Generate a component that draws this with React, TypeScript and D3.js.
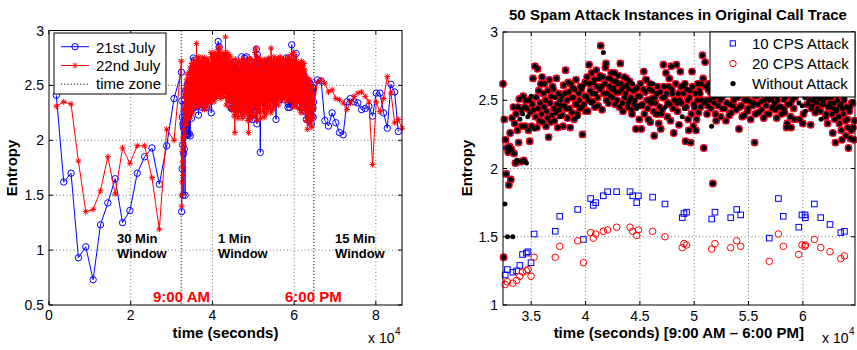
import React from "react";
import * as d3 from "d3";

// ---------- data ----------
// 30 minute windows, 0:30 .. 8:30 (every 1800 s)
const day21Morning = [2.41, 1.62, 1.7, 0.93, 1.03, 0.73, 1.23, 1.43, 1.65, 1.25, 1.36, 1.7, 1.85, 1.93, 1.6, 1.95, 2.38];
const day22Morning = [2.31, 2.35, 2.33, 1.81, 1.35, 1.37, 1.54, 1.85, 1.51, 1.93, 1.79, 1.95, 1.95, 1.66, 1.19, 2.1, 2.0];

// 1 minute windows 9:00 AM - 6:00 PM, 21st July (this is also the original call trace on the right)
// one row = 30 minutes
const day21Trace = [
  2.62, 1.35, 2.36, 1.74, 2.21, 1.96, 2.15, 1.5, 2.12, 1.88, 2.16, 2.26, 1.92, 2.14, 2.37, 1.5, 2.45, 2.11, 2.33, 2.04, 2.4, 2.06, 2.28, 2.45, 2.19, 2.51, 2.36, 2.05, 2.43, 2.31,
  2.4, 2.53, 2.06, 2.45, 2.31, 2.5, 2.04, 2.44, 2.38, 2.28, 2.5, 2.2, 2.41, 2.53, 2.31, 2.47, 2.66, 2.43, 2.29, 2.75, 2.38, 2.52, 2.3, 2.73, 2.44, 2.57, 2.35, 2.48, 2.62, 2.4,
  2.67, 2.34, 2.55, 2.45, 2.62, 2.5, 2.31, 2.42, 2.37, 2.57, 2.23, 2.65, 2.48, 2.34, 2.53, 2.39, 2.6, 2.58, 2.44, 2.35, 2.52, 2.41, 2.66, 2.47, 2.3, 2.55, 2.43, 2.38, 2.5, 2.46,
  2.53, 2.39, 2.31, 2.61, 2.46, 2.55, 2.72, 2.44, 2.5, 2.37, 2.63, 2.56, 2.44, 2.3, 2.62, 2.52, 2.41, 2.59, 2.52, 2.36, 2.58, 2.47, 2.65, 2.47, 2.4, 2.38, 2.55, 2.5, 2.44, 2.6,
  2.58, 2.45, 2.25, 2.6, 2.47, 2.53, 2.63, 2.42, 2.53, 2.67, 2.42, 2.5, 2.76, 2.62, 2.57, 2.48, 2.7, 2.55, 2.49, 2.63, 2.65, 2.45, 2.55, 2.72, 2.6, 2.52, 2.46, 2.66, 2.68, 2.58,
  2.9, 2.6, 2.43, 2.67, 2.85, 2.55, 2.62, 2.74, 2.77, 2.5, 2.55, 2.66, 2.48, 2.6, 2.66, 2.53, 2.7, 2.58, 2.52, 2.64, 2.59, 2.7, 2.47, 2.56, 2.64, 2.5, 2.62, 2.68, 2.56, 2.45,
  2.77, 2.62, 2.58, 2.48, 2.42, 2.6, 2.67, 2.52, 2.55, 2.66, 2.61, 2.45, 2.48, 2.58, 2.64, 2.5, 2.52, 2.43, 2.4, 2.62, 2.57, 2.47, 2.5, 2.58, 2.29, 2.44, 2.59, 2.53, 2.46, 2.36,
  2.53, 2.62, 2.29, 2.46, 2.47, 2.58, 2.71, 2.4, 2.56, 2.65, 2.65, 2.5, 2.44, 2.36, 2.58, 2.62, 2.34, 2.48, 2.51, 2.57, 2.62, 2.42, 2.24, 2.52, 2.48, 2.4, 2.55, 2.6, 2.4, 2.33,
  2.45, 2.56, 2.29, 2.4, 2.43, 2.52, 2.76, 2.6, 2.52, 2.45, 2.7, 2.55, 2.38, 2.48, 2.6, 2.66, 2.47, 2.35, 2.75, 2.58, 2.55, 2.44, 2.26, 2.5, 2.5, 2.62, 2.76, 2.48, 2.42, 2.55,
  2.32, 2.5, 2.71, 2.6, 2.48, 2.38, 2.6, 2.55, 2.44, 2.62, 2.2, 2.45, 2.58, 2.5, 2.36, 2.28, 2.52, 2.57, 2.19, 2.4, 2.71, 2.6, 2.31, 2.47, 2.45, 2.55, 2.28, 2.36, 2.5, 2.62,
  2.41, 2.57, 2.55, 2.45, 2.62, 2.5, 2.83, 2.66, 2.15, 2.48, 2.78, 2.6, 2.5, 2.4, 2.46, 2.58, 2.62, 2.5, 2.56, 2.44, 2.31, 2.62, 1.89, 2.52, 2.48, 2.7, 2.4, 2.35, 2.53, 2.6,
  2.46, 2.62, 2.58, 2.5, 2.38, 2.7, 2.52, 2.44, 2.62, 2.57, 2.44, 2.66, 2.35, 2.48, 2.55, 2.6, 2.66, 2.39, 2.47, 2.54, 2.41, 2.72, 2.59, 2.46, 2.5, 2.63, 2.7, 2.52, 2.43, 2.58,
  2.52, 2.6, 2.29, 2.45, 2.61, 2.55, 2.46, 2.38, 2.55, 2.64, 2.39, 2.5, 2.68, 2.57, 2.5, 2.42, 2.44, 2.6, 2.57, 2.49, 2.36, 2.55, 2.64, 2.46, 2.48, 2.58, 2.19, 2.4, 2.53, 2.62,
  2.58, 2.47, 2.41, 2.55, 2.72, 2.6, 2.49, 2.43, 2.55, 2.65, 2.37, 2.5, 2.63, 2.56, 2.46, 2.4, 2.52, 2.62, 2.4, 2.5, 2.67, 2.55, 2.51, 2.44, 2.45, 2.58, 2.6, 2.48, 2.43, 2.53,
  2.37, 2.5, 2.54, 2.45, 2.62, 2.55, 2.45, 2.4, 2.75, 2.58, 2.5, 2.44, 2.41, 2.52, 2.58, 2.3, 2.33, 2.47, 2.66, 2.56, 2.47, 2.38, 2.3, 2.5, 2.56, 2.62, 2.44, 2.36, 2.52, 2.6,
  2.87, 2.55, 2.61, 2.7, 2.48, 2.36, 2.7, 2.58, 2.55, 2.46, 2.33, 2.4, 2.64, 2.52, 2.42, 2.6, 2.58, 2.47, 2.79, 2.62, 2.5, 2.55, 2.32, 2.44, 2.46, 2.58, 2.62, 2.5, 2.53, 2.41,
  2.57, 2.48, 2.44, 2.52, 2.68, 2.6, 2.51, 2.42, 2.36, 2.47, 2.62, 2.5, 2.47, 2.58, 2.55, 2.38, 2.4, 2.52, 2.33, 2.45, 2.59, 2.48, 2.45, 2.55, 2.52, 2.4, 2.26, 2.44, 2.48, 2.36,
  2.19, 2.42, 2.43, 2.5, 2.55, 2.38, 2.33, 2.46, 2.47, 2.28, 2.21, 2.44, 2.4, 2.5, 2.52, 2.35, 2.24, 2.45, 2.36, 2.3, 2.15, 2.42, 2.45, 2.22, 2.28, 2.48, 2.48, 2.3, 2.21, 2.35,
];

// 1 minute windows 9:00 AM - 6:00 PM, 22nd July, one row = 30 minutes
const day22Trace = [
  2.72, 1.4, 1.5, 1.62, 1.9, 1.8, 2.02, 1.68, 1.75, 2.1, 2.28, 1.95, 2.15, 2.4, 2.05, 2.46, 2.2, 2.33, 2.5, 2.25, 2.38, 2.55, 2.15, 2.42, 2.6, 2.3, 2.48, 2.2, 2.55, 2.35,
  2.55, 2.24, 2.62, 2.38, 2.5, 2.2, 2.66, 2.42, 2.57, 2.31, 2.6, 2.28, 2.7, 2.45, 2.35, 2.62, 2.25, 2.55, 2.48, 2.68, 2.32, 2.58, 2.4, 2.72, 2.36, 2.5, 2.64, 2.3, 2.56, 2.44,
  2.7, 2.36, 2.88, 2.45, 2.62, 2.3, 2.74, 2.52, 2.4, 2.68, 2.35, 2.58, 2.76, 2.42, 2.6, 2.32, 2.7, 2.5, 2.38, 2.65, 2.46, 2.72, 2.34, 2.56, 2.62, 2.4, 2.75, 2.48, 2.3, 2.6,
  2.35, 2.71, 2.48, 2.6, 2.28, 2.75, 2.44, 2.58, 2.33, 2.66, 2.5, 2.38, 2.72, 2.45, 2.62, 2.3, 2.68, 2.52, 2.4, 2.74, 2.46, 2.56, 2.34, 2.7, 2.5, 2.42, 2.66, 2.36, 2.6, 2.48,
  2.52, 2.8, 2.38, 2.69, 2.47, 2.76, 2.36, 2.62, 2.55, 2.78, 2.42, 2.7, 2.5, 2.35, 2.74, 2.58, 2.44, 2.8, 2.48, 2.65, 2.38, 2.72, 2.55, 2.45, 2.78, 2.4, 2.62, 2.52, 2.7, 2.46,
  2.44, 2.83, 2.56, 2.72, 2.4, 2.65, 2.5, 2.85, 2.46, 2.7, 2.58, 2.38, 2.76, 2.52, 2.64, 2.42, 2.8, 2.5, 2.6, 2.45, 2.74, 2.55, 2.4, 2.7, 2.62, 2.48, 2.78, 2.44, 2.66, 2.52,
  2.94, 2.48, 2.75, 2.32, 2.66, 2.54, 2.8, 2.38, 2.6, 2.45, 2.72, 2.35, 2.64, 2.5, 2.78, 2.4, 2.58, 2.3, 2.7, 2.52, 2.44, 2.76, 2.36, 2.62, 2.48, 2.7, 2.28, 2.58, 2.66, 2.42,
  2.72, 2.27, 2.58, 2.41, 2.68, 2.22, 2.55, 2.36, 2.07, 2.62, 2.45, 2.74, 2.3, 2.6, 2.5, 2.25, 2.66, 2.4, 2.7, 2.33, 2.56, 2.2, 2.64, 2.46, 2.72, 2.35, 2.52, 2.28, 2.62, 2.44,
  2.3, 2.66, 2.45, 2.24, 2.58, 2.7, 2.35, 2.52, 2.2, 2.64, 2.42, 2.74, 2.28, 2.56, 2.48, 2.68, 2.22, 2.6, 2.38, 2.72, 2.3, 2.55, 2.45, 2.66, 2.25, 2.5, 2.62, 2.35, 2.7, 2.4,
  2.48, 2.18, 2.72, 2.38, 2.07, 2.6, 2.44, 2.75, 2.28, 2.55, 2.35, 2.68, 2.2, 2.6, 2.46, 2.74, 2.3, 2.52, 2.4, 2.66, 2.25, 2.58, 2.7, 2.36, 2.5, 2.22, 2.64, 2.42, 2.72, 2.32,
  2.36, 2.8, 2.5, 2.22, 2.84, 2.42, 2.65, 2.3, 2.58, 2.18, 2.62, 2.45, 2.76, 2.28, 2.55, 2.4, 2.7, 2.25, 2.6, 2.48, 2.74, 2.32, 2.56, 2.2, 2.66, 2.44, 2.72, 2.35, 2.5, 2.62,
  2.62, 2.4, 2.72, 2.26, 2.55, 2.35, 2.68, 2.48, 2.21, 2.6, 2.44, 2.74, 2.3, 2.58, 2.5, 2.66, 2.24, 2.56, 2.4, 2.7, 2.32, 2.62, 2.46, 2.28, 2.68, 2.52, 2.36, 2.75, 2.42, 2.58,
  2.44, 2.74, 2.3, 2.66, 2.52, 2.25, 2.84, 2.4, 2.62, 2.5, 2.35, 2.72, 2.46, 2.6, 2.28, 2.7, 2.55, 2.38, 2.76, 2.48, 2.32, 2.64, 2.5, 2.42, 2.7, 2.36, 2.58, 2.74, 2.45, 2.6,
  2.35, 2.7, 2.55, 2.42, 2.75, 2.48, 2.32, 2.64, 2.5, 2.72, 2.4, 2.6, 2.46, 2.76, 2.38, 2.66, 2.52, 2.44, 2.7, 2.36, 2.58, 2.74, 2.45, 2.62, 2.4, 2.68, 2.5, 2.56, 2.42, 2.7,
  2.45, 2.68, 2.38, 2.6, 2.52, 2.74, 2.42, 2.66, 2.48, 2.58, 2.36, 2.72, 2.5, 2.62, 2.4, 2.76, 2.46, 2.56, 2.38, 2.7, 2.52, 2.64, 2.42, 2.74, 2.48, 2.6, 2.36, 2.68, 2.5, 2.62,
  2.78, 2.36, 2.62, 2.5, 2.72, 2.3, 2.65, 2.44, 2.8, 2.55, 2.4, 2.7, 2.32, 2.6, 2.48, 2.76, 2.38, 2.66, 2.52, 2.34, 2.72, 2.45, 2.62, 2.3, 2.58, 2.7, 2.42, 2.55, 2.36, 2.68,
  2.4, 2.66, 2.28, 2.58, 2.48, 2.7, 2.35, 2.55, 2.25, 2.62, 2.44, 2.72, 2.32, 2.6, 2.5, 2.38, 2.68, 2.3, 2.56, 2.46, 2.7, 2.28, 2.6, 2.4, 2.64, 2.34, 2.52, 2.25, 2.58, 2.42,
  2.45, 2.18, 2.56, 2.3, 2.1, 2.48, 2.25, 2.52, 2.2, 2.35, 2.5, 2.22, 2.44, 2.32, 2.55, 2.15, 2.42, 2.28, 2.5, 2.2, 2.38, 2.46, 2.12, 2.4, 2.3, 2.48, 2.2, 2.35, 2.42, 2.28,
];

// 15 minute windows after 6:00 PM (every 900 s from 65700)
const day21Evening = [2.55, 2.54, 2.18, 2.13, 2.25, 2.16, 2.07, 2.05, 2.35, 2.38, 2.35, 2.34, 2.28, 2.29, 2.31, 2.22, 2.43, 2.43, 2.25, 2.11, 2.51, 2.44, 2.08];
const day22Evening = [2.53, 2.55, 2.52, 2.44, 2.46, 2.38, 2.37, 2.34, 2.28, 2.34, 2.4, 2.43, 2.44, 2.4, 2.35, 1.78, 2.35, 2.26, 2.38, 2.58, 2.43, 2.16, 2.19, 2.11];

// spam attack instances
const attackTimes = [
  32600, 32800, 33300, 33650, 33950, 34200, 34550, 34700, 34980, 35260, 37210, 37620, 39270, 39800, 40470, 40710,
  40930, 41630, 42030, 42860, 44090, 44340, 44710, 44860, 46170, 47310, 48900, 49060, 49300, 51610, 51910, 53360,
  53910, 54280, 56910, 57750, 58200, 59620, 59920, 60200, 60230, 61060, 61650, 62500, 63490, 63830,
];
const cps10 = [
  1.22, 1.26, 1.24, 1.25, 1.29, 1.37, 1.38, 1.39, 1.31, 1.52, 1.54, 1.65, 1.7, 1.48, 1.78, 1.73,
  1.75, 1.8, 1.83, 1.83, 1.83, 1.8, 1.75, 1.8, 1.79, 1.74, 1.64, 1.67, 1.68, 1.63, 1.68, 1.64,
  1.7, 1.66, 1.49, 1.78, 1.65, 1.57, 1.66, 1.66, 1.64, 1.74, 1.64, 1.59, 1.53, 1.54,
];
const cps20 = [
  1.15, 1.17, 1.16, 1.18, 1.21, 1.24, 1.25, 1.26, 1.21, 1.35, 1.35, 1.43, 1.47, 1.31, 1.53, 1.49,
  1.52, 1.54, 1.55, 1.57, 1.57, 1.54, 1.51, 1.55, 1.54, 1.5, 1.42, 1.45, 1.44, 1.41, 1.45, 1.42,
  1.47, 1.43, 1.32, 1.52, 1.43, 1.37, 1.44, 1.43, 1.44, 1.48, 1.42, 1.39, 1.34, 1.36,
];

const leftXTicks = [0, 20000, 40000, 60000, 80000];
const leftXLabels = ["0", "2", "4", "6", "8"];
const leftYTicks = [0.5, 1, 1.5, 2, 2.5, 3];
const rightXTicks = [35000, 40000, 45000, 50000, 55000, 60000];
const rightXLabels = ["3.5", "4", "4.5", "5", "5.5", "6"];
const rightYTicks = [1, 1.5, 2, 2.5, 3];
const timeZones = [32400, 64800];

// ---------- helpers ----------
const font = "'Liberation Sans', Arial, Helvetica, sans-serif";
type P = [number, number];
const series = (vals: number[], start: number, step: number): P[] => vals.map((v, i) => [start + i * step, v]);

const L = { x0: 49, x1: 402, y0: 30.5, y1: 305 };
const R = { x0: 503, x1: 855, y0: 32, y1: 305 };

const xL = d3.scaleLinear().domain([0, 86400]).range([L.x0, L.x1]);
const yL = d3.scaleLinear().domain([0.5, 3]).range([L.y1, L.y0]);
const xR = d3.scaleLinear().domain([32400, 64800]).range([R.x0, R.x1]);
const yR = d3.scaleLinear().domain([1, 3]).range([R.y1, R.y0]);

const blueData = [...series(day21Morning, 1800, 1800), ...series(day21Trace, 32400, 60), ...series(day21Evening, 65700, 900)];
const redData = [...series(day22Morning, 1800, 1800), ...series(day22Trace, 32400, 60), ...series(day22Evening, 65700, 900)];
const trace = series(day21Trace, 32400, 60);
const attacked = new Set(attackTimes.map((t) => Math.round((t - 32400) / 60)));

const lineL = d3.line<P>().x((d) => xL(d[0])).y((d) => yL(d[1]));

const star = (x: number, y: number) =>
  `M${x - 3},${y}h6M${x},${y - 3}v6M${x - 2.2},${y - 2.2}l4.4,4.4M${x - 2.2},${y + 2.2}l4.4,-4.4`;

const Grid = ({ b, xs, ys }: { b: typeof L; xs: number[]; ys: number[] }) => (
  <g stroke="#555" strokeWidth={0.8} strokeDasharray="1 2.5">
    {xs.map((x, i) => (
      <line key={"x" + i} x1={x} x2={x} y1={b.y0} y2={b.y1} />
    ))}
    {ys.map((y, i) => (
      <line key={"y" + i} x1={b.x0} x2={b.x1} y1={y} y2={y} />
    ))}
  </g>
);

const Box = ({ b, xs, ys }: { b: typeof L; xs: number[]; ys: number[] }) => (
  <g stroke="#000" strokeWidth={1}>
    <rect x={b.x0} y={b.y0} width={b.x1 - b.x0} height={b.y1 - b.y0} fill="none" />
    {xs.map((x, i) => (
      <g key={"tx" + i}>
        <line x1={x} x2={x} y1={b.y1} y2={b.y1 - 4} />
        <line x1={x} x2={x} y1={b.y0} y2={b.y0 + 4} />
      </g>
    ))}
    {ys.map((y, i) => (
      <g key={"ty" + i}>
        <line x1={b.x0} x2={b.x0 + 4} y1={y} y2={y} />
        <line x1={b.x1} x2={b.x1 - 4} y1={y} y2={y} />
      </g>
    ))}
  </g>
);

export default function App() {
  const redStars = redData.map((d) => star(xL(d[0]), yL(d[1]))).join("");
  return (
    <div style={{ position: "absolute", left: 0, top: 0 }}>
      <svg width={857} height={350} style={{ display: "block", background: "#fff", fontFamily: font }}>
        {/* ===== left chart ===== */}
        <Grid
          b={L}
          xs={leftXTicks.filter((t) => t > 0).map((t) => xL(t))}
          ys={leftYTicks.filter((t) => t > 0.5 && t < 3).map((t) => yL(t))}
        />
        {timeZones.map((t) => (
          <line key={t} x1={xL(t)} x2={xL(t)} y1={L.y0} y2={L.y1} stroke="#666" strokeWidth={1.6} strokeDasharray="1.2 2" />
        ))}
        <path d={lineL(blueData) || ""} fill="none" stroke="#0000ff" strokeWidth={1} />
        <g fill="none" stroke="#0000ff" strokeWidth={1}>
          {blueData.map((d, i) => (
            <circle key={i} cx={xL(d[0])} cy={yL(d[1])} r={3.2} />
          ))}
        </g>
        <path d={lineL(redData) || ""} fill="none" stroke="#ff0000" strokeWidth={1} />
        <path d={redStars} fill="none" stroke="#ff0000" strokeWidth={1} />
        <Box b={L} xs={leftXTicks.map((t) => xL(t))} ys={leftYTicks.map((t) => yL(t))} />
        <g fontSize={14} fill="#000">
          {leftXTicks.map((t, i) => (
            <text key={t} x={xL(t)} y={320} textAnchor="middle">
              {leftXLabels[i]}
            </text>
          ))}
          {leftYTicks.map((t) => (
            <text key={t} x={L.x0 - 5} y={yL(t) + 5} textAnchor="end">
              {t}
            </text>
          ))}
          <text x={368} y={343}>x 10</text>
          <text x={395} y={335} fontSize={10}>4</text>
        </g>
        <text x={225.5} y={338} textAnchor="middle" fontSize={15} fontWeight="bold">
          time (seconds)
        </text>
        <text transform="translate(17,168) rotate(-90)" textAnchor="middle" fontSize={15} fontWeight="bold">
          Entropy
        </text>
        <g fontSize={13} fontWeight="bold">
          <text x={117} y={243}>30 Min</text>
          <text x={117} y={258}>Window</text>
          <text x={218} y={243}>1 Min</text>
          <text x={218} y={258}>Window</text>
          <text x={335} y={243}>15 Min</text>
          <text x={335} y={258}>Window</text>
        </g>
        <g fontSize={15} fontWeight="bold" fill="#ff0000">
          <text x={153} y={302}>9:00 AM</text>
          <text x={285} y={302}>6:00 PM</text>
        </g>
        {/* left legend */}
        <rect x={54} y={33} width={112} height={61} fill="#fff" stroke="#000" strokeWidth={1} />
        <line x1={61} x2={89} y1={46.7} y2={46.7} stroke="#0000ff" />
        <circle cx={75} cy={46.7} r={3.2} fill="none" stroke="#0000ff" />
        <line x1={61} x2={89} y1={65.5} y2={65.5} stroke="#ff0000" />
        <path d={star(75, 65.5)} stroke="#ff0000" fill="none" />
        <line x1={61} x2={89} y1={84.3} y2={84.3} stroke="#666" strokeWidth={1.6} strokeDasharray="1.2 2" />
        <g fontSize={15}>
          <text x={96} y={52.5}>21st July</text>
          <text x={96} y={71}>22nd July</text>
          <text x={96} y={89}>time zone</text>
        </g>

        {/* ===== right chart ===== */}
        <Grid
          b={R}
          xs={rightXTicks.map((t) => xR(t))}
          ys={rightYTicks.filter((t) => t > 1 && t < 3).map((t) => yR(t))}
        />
        {/* 10 CPS attack */}
        <g fill="none" stroke="#0000ff" strokeWidth={1}>
          {trace.map((d, i) =>
            attacked.has(i) ? null : <rect key={i} x={xR(d[0]) - 2.6} y={yR(d[1]) - 2.6} width={5.2} height={5.2} />
          )}
          {attackTimes.map((t, i) => (
            <rect key={"a" + i} x={xR(t) - 2.8} y={yR(cps10[i]) - 2.8} width={5.6} height={5.6} />
          ))}
        </g>
        {/* 20 CPS attack */}
        <g fill="none" stroke="#ff0000">
          {trace.map((d, i) =>
            attacked.has(i) ? null : <circle key={i} cx={xR(d[0])} cy={yR(d[1])} r={3.3} strokeWidth={1.2} />
          )}
          {attackTimes.map((t, i) => (
            <circle key={"a" + i} cx={xR(t)} cy={yR(cps20[i])} r={3.3} strokeWidth={1} />
          ))}
        </g>
        {/* without attack */}
        <g fill="#000">
          {trace.map((d, i) => (
            <circle key={i} cx={xR(d[0])} cy={yR(d[1])} r={2.5} />
          ))}
        </g>
        <Box b={R} xs={rightXTicks.map((t) => xR(t))} ys={rightYTicks.map((t) => yR(t))} />
        <g fontSize={14} fill="#000">
          {rightXTicks.map((t, i) => (
            <text key={t} x={xR(t)} y={321} textAnchor="middle">
              {rightXLabels[i]}
            </text>
          ))}
          {rightYTicks.map((t) => (
            <text key={t} x={R.x0 - 5} y={yR(t) + 5} textAnchor="end">
              {t}
            </text>
          ))}
          <text x={822} y={343}>x 10</text>
          <text x={849} y={335} fontSize={10}>4</text>
        </g>
        <text x={678.8} y={338} textAnchor="middle" fontSize={15} fontWeight="bold">
          time (seconds) [9:00 AM – 6:00 PM]
        </text>
        <text transform="translate(472,168) rotate(-90)" textAnchor="middle" fontSize={15} fontWeight="bold">
          Entropy
        </text>
        <text x={678} y={20} textAnchor="middle" fontSize={15} fontWeight="bold">
          50 Spam Attack Instances in Original Call Trace
        </text>
        {/* right legend */}
        <rect x={710} y={32} width={145} height={65} fill="#fff" stroke="#000" strokeWidth={1} />
        <rect x={730.2} y={40.8} width={5.2} height={5.2} fill="none" stroke="#0000ff" />
        <circle cx={733} cy={63.5} r={3.2} fill="none" stroke="#ff0000" />
        <circle cx={733} cy={83.5} r={2.6} fill="#000" />
        <g fontSize={15}>
          <text x={752} y={49}>10 CPS Attack</text>
          <text x={752} y={69}>20 CPS Attack</text>
          <text x={752} y={89}>Without Attack</text>
        </g>
      </svg>
    </div>
  );
}
